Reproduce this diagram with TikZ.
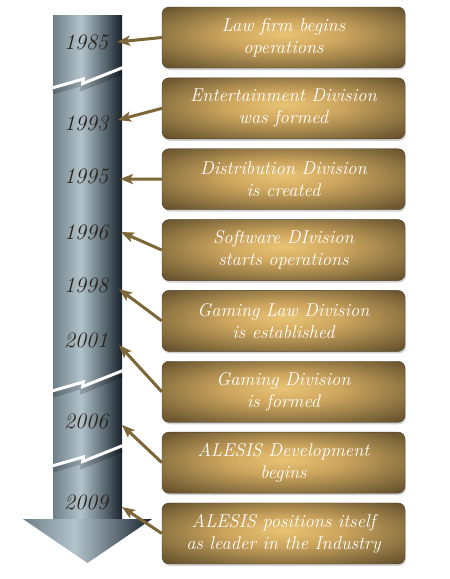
\documentclass[tikz,border=0pt]{standalone}
\usepackage{xcolor}
\usetikzlibrary{arrows.meta,shadows,positioning}

\definecolor{steelA}{HTML}{6E7F89}
\definecolor{steelB}{HTML}{B3C3CB}
\definecolor{steelC}{HTML}{56656E}
\definecolor{steelD}{HTML}{18222A}
\definecolor{goldA}{HTML}{E9C474}
\definecolor{goldB}{HTML}{CDA55E}
\definecolor{goldC}{HTML}{957A45}
\definecolor{goldD}{HTML}{634F2C}
\definecolor{linkcol}{HTML}{7D6638}
\definecolor{yearcol}{HTML}{2A2219}

% the path covers 25bp..75bp of the shading
\pgfdeclarehorizontalshading{steel}{100bp}{color(0bp)=(steelA); color(25bp)=(steelA); color(45bp)=(steelB); color(63bp)=(steelC); color(75bp)=(steelD); color(100bp)=(steelD)}
\pgfdeclareradialshading{gold}{\pgfpoint{0bp}{3bp}}{color(0bp)=(goldA); color(12bp)=(goldB); color(24bp)=(goldC); color(35bp)=(goldD); color(50bp)=(goldD)}

\tikzstyle{evbox}=[shading=gold, draw=goldD!80!black, line width=0.4pt, rounded corners=7pt,
  minimum width=243pt, minimum height=61pt, align=center, text=white,
  font=\fontsize{18.5}{22}\selectfont\itshape,
  drop shadow={shadow xshift=1pt, shadow yshift=-2pt, opacity=.35}]
\tikzstyle{year}=[text=yearcol, font=\fontsize{22}{24}\selectfont\itshape]
\tikzstyle{link}=[draw=linkcol, line width=3pt, -{Stealth[length=13pt, width=10pt, inset=3pt]}]
\tikzstyle{crack}=[draw=white, line width=3pt, line join=miter]

\begin{document}
\begin{tikzpicture}[x=1pt, y=-1pt]
\useasboundingbox[fill=white] (0,0) rectangle (450,579);

% shaft
\shade[shading=steel] (53,15) rectangle (122,520);
\shade[shading=steel] (23,519) -- (152,519) -- (87.5,563) -- cycle;

% breaks
\foreach \b in {88,391,466}{
    \draw[black, opacity=.18, line width=5pt] (53,\b+4) -- (83.3,\b-5) -- (82.7,\b) -- (122,\b-16);
    \draw[crack] (52,\b) -- (83.3,\b-9) -- (82.7,\b-4.5) -- (123,\b-20.5);
}

% years
\foreach \yr/\ly/\tx/\ty in {1985/42/117/42, 1993/123/118/120, 1995/176/120/179, 1996/232/121/232,
                             1998/285/119/289, 2001/340/119/345, 2006/421/122/425, 2009/502/122/507}{
    \node[year] (y\yr) at (86,\ly) {\yr};
    \coordinate (t\yr) at (\tx,\ty);
}

% events
\foreach \txt [count=\i] in {Law firm begins\\operations, Entertainment Division\\was formed,
    Distribution Division\\is created, Software DIvision\\starts operations,
    Gaming Law Division\\is established, Gaming Division\\is formed,
    ALESIS Development\\begins, ALESIS positions itself\\as leader in the Industry}
    \node[evbox] (e\i) at (283.5,{37.5+70.85*(\i-1)}) {\txt};

% links
\foreach \yr [count=\i] in {1985,1993,1995,1996,1998,2001,2006,2009}
    \draw[link] (e\i.west) -- (t\yr);

\end{tikzpicture}
\end{document}
